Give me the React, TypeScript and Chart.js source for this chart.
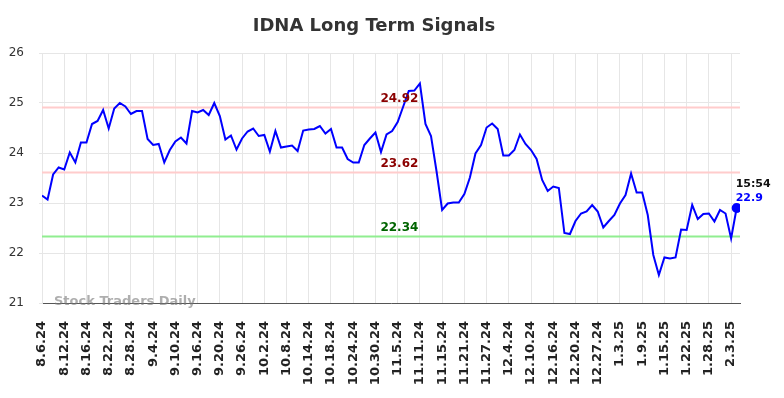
import { useEffect, useRef } from "react";
import { Chart, registerables } from "chart.js";

Chart.register(...registerables);

const chartTitle = "IDNA Long Term Signals";
const watermark = "Stock Traders Daily";

const tickLabels = [
  "8.6.24", "8.12.24", "8.16.24", "8.22.24", "8.28.24", "9.4.24", "9.10.24", "9.16.24",
  "9.20.24", "9.26.24", "10.2.24", "10.8.24", "10.14.24", "10.18.24", "10.24.24", "10.30.24",
  "11.5.24", "11.11.24", "11.15.24", "11.21.24", "11.27.24", "12.4.24", "12.10.24", "12.16.24",
  "12.20.24", "12.27.24", "1.3.25", "1.9.25", "1.15.25", "1.22.25", "1.28.25", "2.3.25",
];
const tickEvery = 4;

const prices = [
  23.15, 23.07, 23.57, 23.71, 23.67, 24.01, 23.81, 24.21, 24.21, 24.58,
  24.64, 24.86, 24.49, 24.89, 25.0, 24.93, 24.78, 24.84, 24.84, 24.28,
  24.16, 24.18, 23.81, 24.06, 24.23, 24.31, 24.19, 24.84, 24.81, 24.86,
  24.76, 25.0, 24.74, 24.27, 24.35, 24.07, 24.29, 24.43, 24.49, 24.34,
  24.36, 24.03, 24.44, 24.11, 24.13, 24.15, 24.04, 24.45, 24.47, 24.48,
  24.54, 24.39, 24.48, 24.11, 24.11, 23.88, 23.81, 23.81, 24.16, 24.29,
  24.41, 24.02, 24.37, 24.44, 24.62, 24.93, 25.24, 25.25, 25.39, 24.58,
  24.34, 23.63, 22.86, 22.99, 23.01, 23.01, 23.18, 23.51, 23.99, 24.16,
  24.51, 24.59, 24.48, 23.95, 23.95, 24.06, 24.37, 24.18, 24.06, 23.88,
  23.46, 23.24, 23.33, 23.3, 22.4, 22.38, 22.64, 22.79, 22.83, 22.96,
  22.83, 22.51, 22.64, 22.76, 22.99, 23.16, 23.59, 23.21, 23.21, 22.76,
  21.96, 21.56, 21.91, 21.89, 21.91, 22.47, 22.46, 22.96, 22.68, 22.78,
  22.79, 22.63, 22.86, 22.79, 22.29, 22.9,
];

const resistanceLevels = [24.92, 23.62];
const supportLevels = [22.34];
const lastTime = "15:54";
const lastPrice = 22.9;
const yMin = 21;
const yMax = 26;

const FONT = "'DejaVu Sans', Verdana, sans-serif";

const overlayPlugin = {
  id: "overlay",
  beforeDatasetsDraw(chart: any) {
    const { ctx, chartArea, scales } = chart;
    const y = scales.y;
    ctx.save();
    ctx.lineWidth = 2;
    const drawLine = (v: number, color: string) => {
      const py = Math.round(y.getPixelForValue(v)) + 0.5;
      ctx.strokeStyle = color;
      ctx.beginPath();
      ctx.moveTo(chartArea.left, py);
      ctx.lineTo(chartArea.right, py);
      ctx.stroke();
    };
    resistanceLevels.forEach((v) => drawLine(v, "#ffcccc"));
    supportLevels.forEach((v) => drawLine(v, "#90ee90"));
    ctx.restore();
  },
  afterDatasetsDraw(chart: any) {
    const { ctx, chartArea, scales } = chart;
    const x = scales.x;
    const y = scales.y;
    ctx.save();
    const lx = chartArea.left + (chartArea.right - chartArea.left) * 0.512;
    ctx.font = `bold 12px ${FONT}`;
    ctx.textAlign = "center";
    ctx.textBaseline = "middle";
    resistanceLevels.forEach((v) => {
      ctx.fillStyle = "#8b0000";
      ctx.fillText(v.toFixed(2), lx, y.getPixelForValue(v) - 8);
    });
    supportLevels.forEach((v) => {
      ctx.fillStyle = "#006400";
      ctx.fillText(v.toFixed(2), lx, y.getPixelForValue(v) - 8);
    });
    const px = x.getPixelForValue(prices.length - 1);
    const py = y.getPixelForValue(lastPrice);
    ctx.textAlign = "left";
    ctx.font = `bold 11px ${FONT}`;
    ctx.fillStyle = "#111111";
    ctx.fillText(lastTime, px - 1, py - 24);
    ctx.fillStyle = "#0000ff";
    ctx.fillText(String(lastPrice), px - 1, py - 10);
    ctx.font = `bold 13px ${FONT}`;
    ctx.fillStyle = "rgba(120,120,120,0.6)";
    ctx.textAlign = "left";
    ctx.fillText(watermark, chartArea.left + 12, chartArea.bottom - 1);
    ctx.font = `bold 18px ${FONT}`;
    ctx.fillStyle = "#333333";
    ctx.textAlign = "center";
    ctx.fillText(chartTitle, 374, 26);
    ctx.restore();
  },
};

export default function App() {
  const ref = useRef<HTMLCanvasElement | null>(null);
  useEffect(() => {
    if (!ref.current) return;
    const chart = new Chart(ref.current, {
      type: "line",
      data: {
        datasets: [
          {
            data: prices.map((v, i) => ({ x: i, y: v })),
            borderColor: "#0000ff",
            backgroundColor: "#0000ff",
            borderWidth: 2,
            tension: 0,
            pointRadius: (c: any) => (c.dataIndex === prices.length - 1 ? 4 : 0),
            pointHoverRadius: 0,
          },
        ],
      },
      options: {
        animation: false,
        responsive: false,
        maintainAspectRatio: false,
        layout: { padding: { top: 53, right: 44, left: 0, bottom: 0 } },
        plugins: {
          legend: { display: false },
          title: { display: false },
          tooltip: { enabled: false },
        },
        scales: {
          x: {
            type: "linear",
            min: 0,
            max: 125.6,
            afterBuildTicks: (scale: any) => {
              scale.ticks = tickLabels.map((_, i) => ({ value: i * tickEvery }));
            },
            afterFit: (scale: any) => {
              scale.height = 95;
            },
            ticks: {
              stepSize: tickEvery,
              autoSkip: false,
              minRotation: 90,
              maxRotation: 90,
              padding: 18,
              color: "#222222",
              font: { family: FONT, size: 13, weight: "bold" },
              callback: (v: any) => tickLabels[Math.round(Number(v) / tickEvery)] ?? "",
            },
            grid: { color: "#e6e6e6", lineWidth: 1, drawTicks: false },
            border: { color: "#555555", width: 1 },
          },
          y: {
            type: "linear",
            min: yMin,
            max: yMax,
            afterFit: (scale: any) => {
              scale.width = 42;
            },
            ticks: {
              stepSize: 1,
              padding: 15,
              color: "#333333",
              font: { family: FONT, size: 12 },
            },
            grid: { color: "#e6e6e6", lineWidth: 1, tickLength: 3 },
            border: { color: "#e6e6e6" },
          },
        },
      },
      plugins: [overlayPlugin],
    } as any);
    return () => chart.destroy();
  }, []);
  return (
    <div style={{ position: "fixed", left: 0, top: 0, width: 784, height: 398, background: "#ffffff" }}>
      <canvas ref={ref} width={784} height={398} style={{ width: 784, height: 398, display: "block" }} />
    </div>
  );
}
